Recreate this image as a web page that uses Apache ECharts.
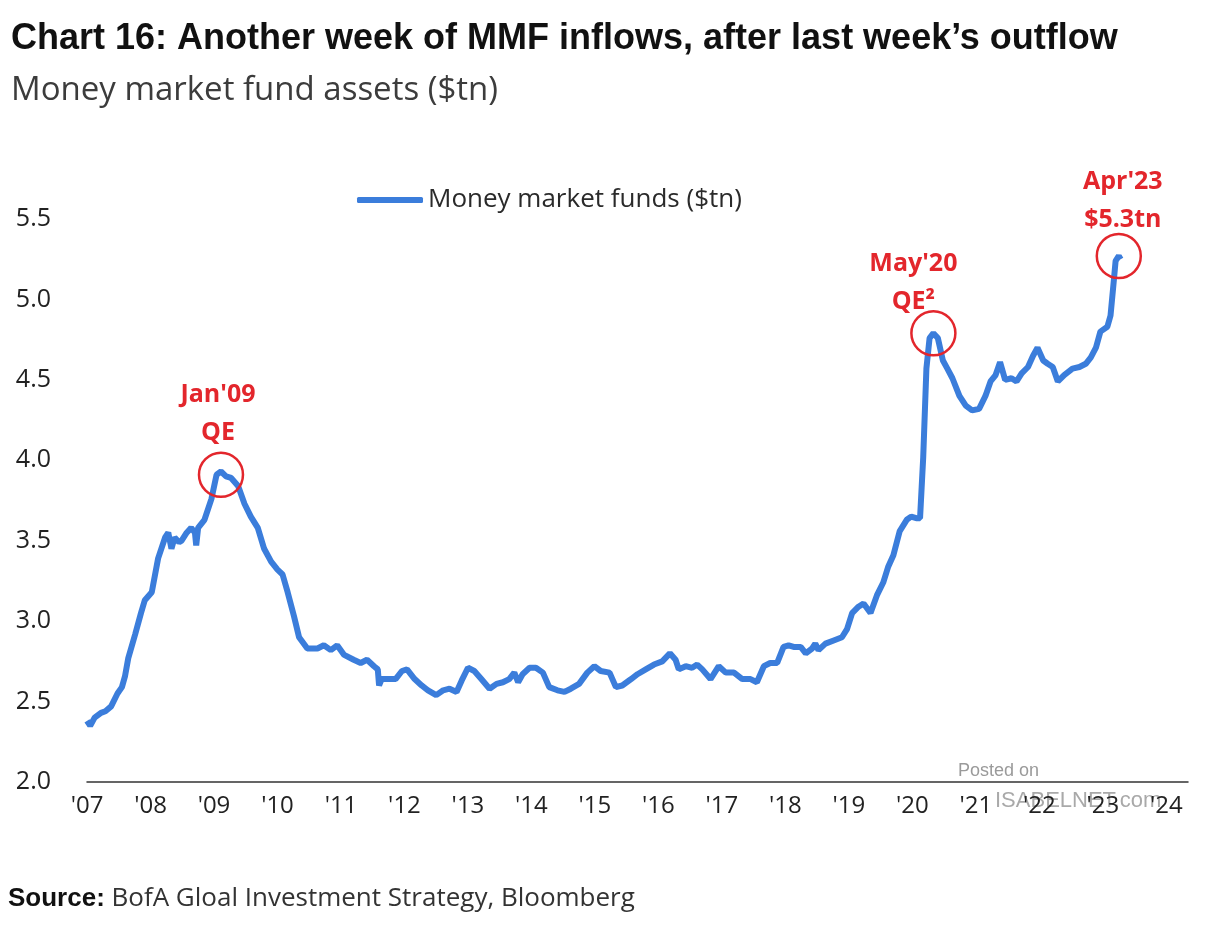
<!DOCTYPE html>
<html>
<head>
<meta charset="utf-8">
<script src="https://cdn.jsdelivr.net/npm/echarts@6/dist/echarts.min.js"></script>
<style>
  html, body { margin: 0; padding: 0; background: #fff; }
  #main { width: 1205px; height: 927px; }
</style>
</head>
<body>
<div id="main"></div>
<script>
// decimal years and money market fund assets ($tn)
var years = [
  2007.00, 2007.05, 2007.12, 2007.22, 2007.29, 2007.38, 2007.48, 2007.55, 2007.60, 2007.65,
  2007.76, 2007.85, 2007.91, 2008.02, 2008.12, 2008.23, 2008.28, 2008.33, 2008.38, 2008.45,
  2008.49, 2008.57, 2008.64, 2008.70, 2008.72, 2008.75, 2008.85, 2008.96, 2009.04, 2009.11,
  2009.19, 2009.27, 2009.38, 2009.48, 2009.58, 2009.69, 2009.79, 2009.90, 2010.00, 2010.08,
  2010.16, 2010.26, 2010.34, 2010.47, 2010.63, 2010.73, 2010.84, 2010.94, 2011.05, 2011.20,
  2011.31, 2011.41, 2011.52, 2011.58, 2011.60, 2011.64, 2011.73, 2011.86, 2011.96, 2012.04,
  2012.16, 2012.27, 2012.37, 2012.50, 2012.61, 2012.71, 2012.82, 2012.90, 2013.00, 2013.10,
  2013.21, 2013.34, 2013.45, 2013.55, 2013.65, 2013.73, 2013.79, 2013.86, 2013.97, 2014.07,
  2014.18, 2014.28, 2014.41, 2014.52, 2014.62, 2014.75, 2014.88, 2014.99, 2015.09, 2015.23,
  2015.33, 2015.43, 2015.57, 2015.67, 2015.80, 2015.93, 2016.06, 2016.18, 2016.27, 2016.32,
  2016.43, 2016.53, 2016.61, 2016.69, 2016.82, 2016.95, 2017.06, 2017.19, 2017.32, 2017.45,
  2017.55, 2017.66, 2017.76, 2017.87, 2017.97, 2018.05, 2018.13, 2018.24, 2018.32, 2018.42,
  2018.47, 2018.52, 2018.63, 2018.76, 2018.89, 2018.97, 2019.05, 2019.15, 2019.23, 2019.34,
  2019.44, 2019.54, 2019.62, 2019.70, 2019.80, 2019.91, 2019.98, 2020.06, 2020.12, 2020.17,
  2020.22, 2020.27, 2020.33, 2020.40, 2020.48, 2020.55, 2020.63, 2020.74, 2020.84, 2020.94,
  2021.05, 2021.15, 2021.23, 2021.31, 2021.38, 2021.46, 2021.56, 2021.64, 2021.72, 2021.82,
  2021.90, 2021.97, 2022.06, 2022.13, 2022.21, 2022.29, 2022.39, 2022.52, 2022.63, 2022.73,
  2022.81, 2022.89, 2022.96, 2023.07, 2023.12, 2023.17, 2023.20, 2023.25, 2023.28
];
var assets = [
  2.38, 2.35, 2.40, 2.43, 2.44, 2.47, 2.55, 2.59, 2.66, 2.77,
  2.92, 3.05, 3.13, 3.18, 3.39, 3.52, 3.55, 3.45, 3.52, 3.49,
  3.50, 3.55, 3.58, 3.55, 3.47, 3.58, 3.63, 3.76, 3.91, 3.93,
  3.90, 3.89, 3.84, 3.73, 3.65, 3.58, 3.45, 3.37, 3.32, 3.29,
  3.18, 3.03, 2.90, 2.83, 2.83, 2.85, 2.82, 2.85, 2.79, 2.76,
  2.74, 2.76, 2.72, 2.70, 2.60, 2.64, 2.64, 2.64, 2.69, 2.70,
  2.64, 2.60, 2.57, 2.54, 2.57, 2.58, 2.56, 2.63, 2.71, 2.69,
  2.64, 2.58, 2.61, 2.62, 2.64, 2.68, 2.62, 2.67, 2.71, 2.71,
  2.68, 2.59, 2.57, 2.56, 2.58, 2.61, 2.68, 2.72, 2.69, 2.68,
  2.59, 2.60, 2.64, 2.67, 2.70, 2.73, 2.75, 2.80, 2.76, 2.70,
  2.72, 2.71, 2.73, 2.70, 2.64, 2.72, 2.68, 2.68, 2.64, 2.64,
  2.62, 2.72, 2.74, 2.74, 2.84, 2.85, 2.84, 2.84, 2.80, 2.83,
  2.86, 2.82, 2.86, 2.88, 2.90, 2.95, 3.05, 3.09, 3.11, 3.05,
  3.16, 3.24, 3.34, 3.41, 3.56, 3.63, 3.65, 3.64, 3.64, 4.02,
  4.57, 4.76, 4.79, 4.76, 4.62, 4.57, 4.51, 4.40, 4.34, 4.31,
  4.32, 4.40, 4.49, 4.53, 4.61, 4.50, 4.51, 4.49, 4.54, 4.58,
  4.65, 4.70, 4.62, 4.60, 4.58, 4.49, 4.53, 4.57, 4.58, 4.60,
  4.64, 4.70, 4.80, 4.83, 4.90, 5.11, 5.24, 5.27, 5.25
];

// circled events
var noteYears = [2009.11, 2020.33, 2023.25];
var noteValues = [3.91, 4.79, 5.27];
var noteTexts = ["Jan'09\nQE", "May'20\nQE\u00B2", "Apr'23\n$5.3tn"];
var noteShift = [[-3, 6], [-20, 17], [4, 12]];

var red = '#e3262c';
var blue = '#3b7ddb';

var myChart = echarts.init(document.getElementById('main'));

var lineData = years.map(function (y, i) { return [y, assets[i]]; });
var marks = noteYears.map(function (y, i) {
  return {
    coord: [y, noteValues[i]],
    label: { offset: noteShift[i] }
  };
});

var option = {
  backgroundColor: '#fff',
  animation: false,
  title: [{
    text: 'Chart 16: Another week of MMF inflows, after last week\u2019s outflow',
    left: 6, top: 16,
    textStyle: { fontFamily: 'Liberation Sans', fontWeight: 'bold', fontSize: 36, color: '#111' }
  }, {
    text: 'Money market fund assets ($tn)',
    left: 6, top: 69,
    textStyle: { fontFamily: 'Open Sans', fontWeight: 'normal', fontSize: 33, color: '#3c3c3c' }
  }],
  legend: {
    left: 352, top: 182,
    icon: 'roundRect',
    itemWidth: 66, itemHeight: 6,
    textStyle: { fontFamily: 'Open Sans', fontSize: 26, color: '#2a2a2a' },
    data: ['Money market funds ($tn)']
  },
  grid: { left: 87, right: 17, top: 219, bottom: 145 },
  xAxis: {
    type: 'value',
    min: 2007, max: 2024.34, interval: 1,
    splitLine: { show: false },
    axisTick: { show: false },
    axisLine: { lineStyle: { color: '#333', width: 1.5 } },
    axisLabel: {
      margin: 12,
      fontFamily: 'Open Sans', fontSize: 24, color: '#222',
      showMaxLabel: false,
      formatter: function (v) { return "'" + String(v).slice(2); }
    }
  },
  yAxis: {
    type: 'value',
    min: 2, max: 5.5, interval: 0.5,
    splitLine: { show: false },
    axisTick: { show: false },
    axisLine: { show: false },
    axisLabel: {
      margin: 36,
      fontFamily: 'Open Sans', fontSize: 25, color: '#222',
      formatter: function (v) { return v.toFixed(1); }
    }
  },
  series: [{
    name: 'Money market funds ($tn)',
    type: 'line',
    data: lineData,
    symbol: 'none',
    smooth: false,
    lineStyle: { color: blue, width: 6 },
    itemStyle: { color: blue },
    markPoint: {
      symbol: 'circle',
      symbolSize: 44,
      itemStyle: { color: 'rgba(0,0,0,0)', borderColor: red, borderWidth: 2.5 },
      label: {
        show: true,
        position: 'top',
        distance: 6,
        formatter: function (p) { return noteTexts[p.dataIndex]; },
        fontFamily: 'Open Sans', fontWeight: 'bold', fontSize: 25,
        lineHeight: 38, color: red
      },
      data: marks
    }
  }],
  graphic: [{
    type: 'text', left: 958, top: 762,
    style: { text: 'Posted on', fontFamily: 'Liberation Sans', fontSize: 18, fill: '#9a9a9a' }
  }, {
    type: 'text', left: 995, top: 790,
    style: { text: 'ISABELNET.com', fontFamily: 'Liberation Sans', fontSize: 22, fill: 'rgba(140,140,140,0.75)' }
  }, {
    type: 'text', left: 8, top: 886,
    style: {
      text: '{b|Source:}  {r|BofA Gloal Investment Strategy, Bloomberg}',
      rich: {
        b: { fontFamily: 'Liberation Sans', fontWeight: 'bold', fontSize: 26, fill: '#111' },
        r: { fontFamily: 'Open Sans', fontSize: 26, fill: '#333' }
      }
    }
  }]
};
myChart.setOption(option);
</script>
</body>
</html>
